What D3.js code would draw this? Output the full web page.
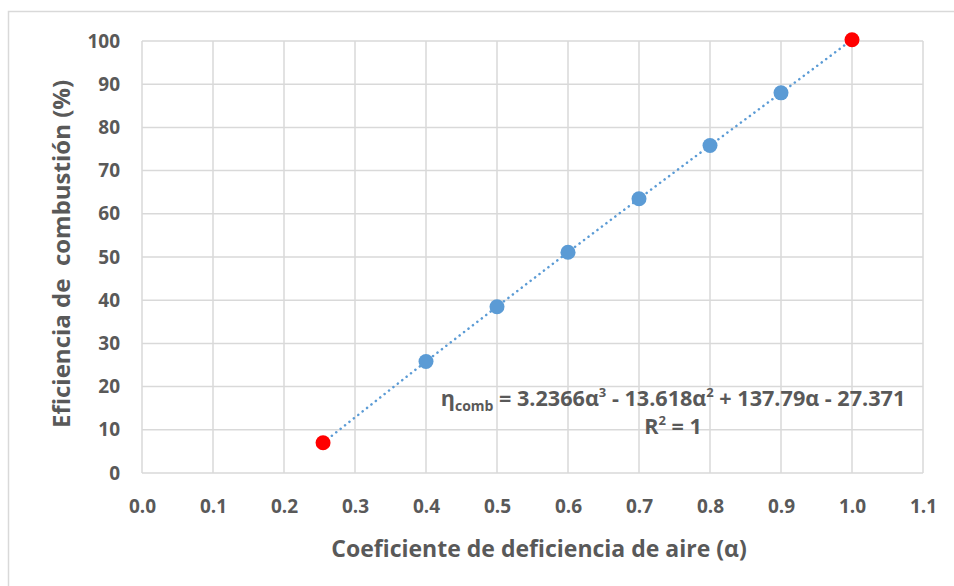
<!DOCTYPE html>
<html><head><meta charset="utf-8">
<script src="https://cdn.jsdelivr.net/npm/d3@7"></script>
<style>body{margin:0;background:#fff}text{font-family:"Open Sans",sans-serif;font-weight:bold;fill:#595959}</style>
</head><body>
<svg id="c" width="954" height="586"></svg>
<script>
const alphaBlue = [0.4, 0.5, 0.6, 0.7, 0.8, 0.9];
const etaBlue = [25.8, 38.5, 51.1, 63.5, 75.8, 88.0];
const alphaRed = [0.255, 1.0];
const etaRed = [7.0, 100.3];
const xTicks = [0,0.1,0.2,0.3,0.4,0.5,0.6,0.7,0.8,0.9,1.0,1.1];
const yTicks = [0,10,20,30,40,50,60,70,80,90,100];

const svg = d3.select("#c");
const L=142, R=923, T=41, B=473;
const x = d3.scaleLinear().domain([0,1.1]).range([L,R]);
const y = d3.scaleLinear().domain([0,100]).range([B,T]);

svg.append("rect").attr("x",8.5).attr("y",11.5).attr("width",1000).attr("height",1000)
  .attr("fill","none").attr("stroke","#d9d9d9").attr("stroke-width",1.5);

const g = svg.append("g");
g.selectAll(".vg").data(xTicks).join("line").attr("x1",d=>x(d)).attr("x2",d=>x(d))
  .attr("y1",T).attr("y2",B).attr("stroke","#d9d9d9").attr("stroke-width",1.5);
g.selectAll(".hg").data(yTicks).join("line").attr("y1",d=>y(d)).attr("y2",d=>y(d))
  .attr("x1",L).attr("x2",R).attr("stroke","#d9d9d9").attr("stroke-width",1.5);

const xa = svg.append("g").attr("transform",`translate(0,${B})`)
  .call(d3.axisBottom(x).tickValues(xTicks).tickFormat(d3.format(".1f")).tickSize(0).tickPadding(27));
xa.select(".domain").remove();
xa.selectAll("text").style("font-size","19px").attr("fill","#595959");
const ya = svg.append("g").attr("transform",`translate(${L},0)`)
  .call(d3.axisLeft(y).tickValues(yTicks).tickSize(0).tickPadding(22));
ya.select(".domain").remove();
ya.selectAll("text").style("font-size","19px").attr("fill","#595959");

// trendline through all points
const allPts = [[alphaRed[0],etaRed[0]], ...alphaBlue.map((a,i)=>[a,etaBlue[i]]), [alphaRed[1],etaRed[1]]];
svg.append("path").datum(allPts)
  .attr("d", d3.line().x(d=>x(d[0])).y(d=>y(d[1])).curve(d3.curveMonotoneX))
  .attr("fill","none").attr("stroke","#5B9BD5").attr("stroke-width",2.5)
  .attr("stroke-dasharray","0.1 5.5").attr("stroke-linecap","round");

svg.selectAll(".rp").data(alphaRed).join("circle")
  .attr("cx",d=>x(d)).attr("cy",(d,i)=>y(etaRed[i])).attr("r",7.5).attr("fill","#FF0000");
svg.selectAll(".bp").data(alphaBlue).join("circle")
  .attr("cx",d=>x(d)).attr("cy",(d,i)=>y(etaBlue[i])).attr("r",7.5).attr("fill","#5B9BD5");

const eq = svg.append("text").attr("x",673).attr("y",406).attr("text-anchor","middle").style("font-size","21.6px");
eq.append("tspan").text("η");
eq.append("tspan").attr("dy",5).style("font-size","14px").text("comb");
eq.append("tspan").attr("dy",-5).text(" = 3.2366α");
eq.append("tspan").attr("dy",-9).style("font-size","13px").text("3");
eq.append("tspan").attr("dy",9).text(" - 13.618α");
eq.append("tspan").attr("dy",-9).style("font-size","13px").text("2");
eq.append("tspan").attr("dy",9).text(" + 137.79α - 27.371");
const r2 = svg.append("text").attr("x",673).attr("y",434).attr("text-anchor","middle").style("font-size","21.6px");
r2.append("tspan").text("R");
r2.append("tspan").attr("dy",-9).style("font-size","13px").text("2");
r2.append("tspan").attr("dy",9).text(" = 1");

svg.append("text").attr("x",539).attr("y",557).attr("text-anchor","middle").style("font-size","23px")
  .text("Coeficiente de deficiencia de aire (α)");
svg.append("text").attr("transform","translate(70,254) rotate(-90)").attr("text-anchor","middle").style("font-size","24px")
  .style("white-space","pre").text("Eficiencia de  combustión (%)");
</script>
</body></html>
